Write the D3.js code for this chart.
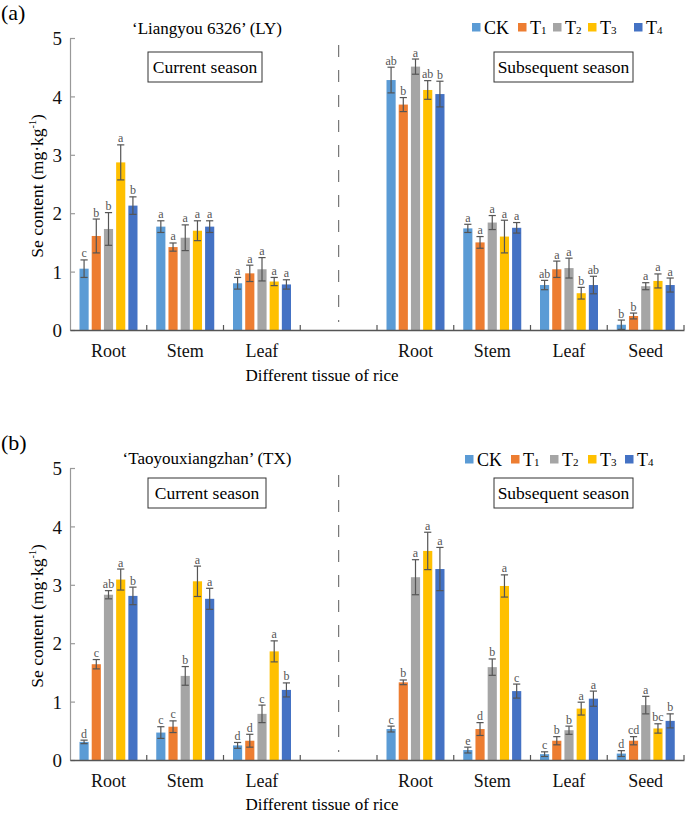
<!DOCTYPE html>
<html><head><meta charset="utf-8">
<script src="https://cdn.jsdelivr.net/npm/d3@7"></script>
<style>body{margin:0;background:#fff}svg{display:block}
svg text{font-family:"Liberation Serif","Times New Roman","DejaVu Serif",serif !important;}</style>
</head><body><svg id="c" width="685" height="815"></svg>
<script>
// ---------- data ----------
const slots = ["Root","Stem","Leaf","","Root","Stem","Leaf","Seed"]; // slot 3 is the gap
const dataSlots = [0,1,2,4,5,6,7];
const series = ["CK","T1","T2","T3","T4"];
const colors = ["#5B9BD5","#ED7D31","#A5A5A5","#FFC000","#4472C4"];
const yTicks = [0,1,2,3,4,5];

// Panel (a) LY
const aCK = [1.05,1.77,0.80, 4.28,1.74,0.77,0.09];
const aT1 = [1.61,1.42,0.97, 3.86,1.50,1.04,0.24];
const aT2 = [1.73,1.58,1.04, 4.51,1.84,1.06,0.75];
const aT3 = [2.87,1.70,0.83, 4.11,1.60,0.63,0.84];
const aT4 = [2.13,1.77,0.78, 4.04,1.75,0.77,0.77];
const aErrCK = [0.15,0.10,0.10, 0.22,0.07,0.08,0.08];
const aErrT1 = [0.29,0.07,0.14, 0.12,0.10,0.14,0.05];
const aErrT2 = [0.28,0.22,0.20, 0.13,0.12,0.17,0.06];
const aErrT3 = [0.30,0.17,0.07, 0.16,0.28,0.10,0.12];
const aErrT4 = [0.15,0.10,0.08, 0.22,0.09,0.15,0.12];
const aLetCK = ["c","a","a","ab","a","ab","b"];
const aLetT1 = ["b","a","a","b","a","a","b"];
const aLetT2 = ["b","a","a","a","a","a","a"];
const aLetT3 = ["a","a","a","ab","a","b","a"];
const aLetT4 = ["b","a","a","b","a","ab","a"];

// Panel (b) TX
const bCK = [0.31,0.47,0.25, 0.53,0.17,0.10,0.11];
const bT1 = [1.64,0.57,0.33, 1.33,0.53,0.33,0.33];
const bT2 = [2.83,1.44,0.79, 3.13,1.59,0.51,0.94];
const bT3 = [3.09,3.06,1.86, 3.58,2.98,0.88,0.54];
const bT4 = [2.81,2.76,1.20, 3.27,1.18,1.05,0.67];
const bErrCK = [0.03,0.10,0.05, 0.05,0.05,0.04,0.05];
const bErrT1 = [0.08,0.10,0.11, 0.04,0.11,0.07,0.07];
const bErrT2 = [0.07,0.16,0.15, 0.30,0.14,0.07,0.15];
const bErrT3 = [0.18,0.26,0.18, 0.32,0.19,0.11,0.08];
const bErrT4 = [0.15,0.18,0.12, 0.37,0.12,0.13,0.12];
const bLetCK = ["d","c","d","c","e","c","d"];
const bLetT1 = ["c","c","d","b","d","b","cd"];
const bLetT2 = ["ab","b","c","a","b","b","a"];
const bLetT3 = ["a","a","a","a","a","a","bc"];
const bLetT4 = ["b","a","b","a","c","a","b"];

// ---------- drawing ----------
const svg = d3.select("#c");

function drawPanel(o){
  const g = svg.append("g").attr("transform",`translate(0,${o.top})`);
  const x = d3.scaleBand().domain(d3.range(slots.length)).range([70,684]);
  const xi = d3.scaleBand().domain(series).range([9.5,67.5]).paddingInner(0.25);
  const y = d3.scaleLinear().domain([0,5]).range([330,38]);

  g.append("text").attr("x",1).attr("y",20).attr("font-size",22).text(o.letter);
  g.append("text").attr("x",207).attr("y",34).attr("text-anchor","middle").attr("font-size",17).text(o.title);

  [{t:"Current season",x0:148,x1:o.curW},{t:"Subsequent season",x0:494,x1:633}].forEach(b=>{
    g.append("rect").attr("x",b.x0).attr("y",o.boxY).attr("width",b.x1-b.x0).attr("height",30)
      .attr("fill","none").attr("stroke","#333").attr("stroke-width",1);
    g.append("text").attr("x",(b.x0+b.x1)/2).attr("y",o.boxY+21).attr("text-anchor","middle")
      .attr("font-size",17.5).text(b.t);
  });

  const lg = g.append("g");
  o.legX.forEach((lx,i)=>{
    lg.append("rect").attr("x",lx).attr("y",o.legY-11).attr("width",8.5).attr("height",8.5).attr("fill",colors[i]);
    const t = lg.append("text").attr("x",lx+12).attr("y",o.legY).attr("font-size",18);
    if(series[i]==="CK") t.text("CK");
    else { t.append("tspan").text("T"); t.append("tspan").attr("font-size",11).text(series[i].slice(1)); }
  });

  g.append("line").attr("x1",x(3)+x.bandwidth()/2).attr("x2",x(3)+x.bandwidth()/2)
    .attr("y1",o.dashTop).attr("y2",322).attr("stroke","#777").attr("stroke-width",1.2)
    .attr("stroke-dasharray","12,13");

  o.vals.forEach((vals,si)=>{
    const s = series[si];
    const gs = g.append("g");
    dataSlots.forEach((slot,k)=>{
      const v = vals[k], e = o.errs[si][k];
      const bx = x(slot)+xi(s), bw = xi.bandwidth();
      gs.append("rect").attr("x",bx).attr("y",y(v)).attr("width",bw).attr("height",y(0)-y(v)).attr("fill",colors[si]);
      const cx = bx+bw/2, cap=3.6;
      const eg = gs.append("g").attr("stroke","#555").attr("stroke-width",1.2);
      eg.append("line").attr("x1",cx).attr("x2",cx).attr("y1",y(v+e)).attr("y2",y(Math.max(0,v-e)));
      eg.append("line").attr("x1",cx-cap).attr("x2",cx+cap).attr("y1",y(v+e)).attr("y2",y(v+e));
      eg.append("line").attr("x1",cx-cap).attr("x2",cx+cap).attr("y1",y(Math.max(0,v-e))).attr("y2",y(Math.max(0,v-e)));
      gs.append("text").attr("x",cx).attr("y",y(v+e)-2.5).attr("text-anchor","middle")
        .attr("font-size",12).attr("fill","#555").text(o.lets[si][k]);
    });
  });

  const ya = g.append("g").attr("transform","translate(70,0)")
    .call(d3.axisLeft(y).tickValues(yTicks).tickFormat(d3.format("d")).tickSize(-5).tickPadding(8).tickSizeOuter(0));
  ya.select(".domain").attr("stroke","#999").attr("stroke-width",1.2);
  ya.selectAll(".tick line").attr("stroke","#999").attr("stroke-width",1.2);
  ya.selectAll(".tick text").attr("font-size",19).attr("fill","#111").attr("dy","0.35em");

  const xa = g.append("g").attr("transform","translate(0,330)")
    .call(d3.axisBottom(x).tickFormat(i=>slots[i]).tickSize(0).tickPadding(14));
  xa.select(".domain").attr("stroke","#555").attr("stroke-width",1.3);
  xa.selectAll(".tick text").attr("font-size",18).attr("fill","#111");
  xa.selectAll(".btick").data(d3.range(1,slots.length+1)).enter().append("line")
    .attr("class","btick").attr("x1",i=>x.step()*i+70).attr("x2",i=>x.step()*i+70)
    .attr("y1",0).attr("y2",-5).attr("stroke","#555").attr("stroke-width",1.2);

  g.append("text").attr("x",322).attr("y",o.xTitleY).attr("text-anchor","middle")
    .attr("font-size",17).text("Different tissue of rice");
  const yl = g.append("text").attr("transform",`translate(43,186) rotate(-90)`).attr("text-anchor","middle")
    .attr("font-size",17.5);
  yl.append("tspan").text("Se content (mg·kg");
  yl.append("tspan").attr("font-size",10).attr("dy",-7).text("-1");
  yl.append("tspan").attr("dy",7).text(")");
}

drawPanel({top:0, letter:"(a)", title:"‘Liangyou 6326’ (LY)", boxY:52, curW:262,
  legX:[472,518,553,588,634], legY:34, dashTop:45, xTitleY:381,
  vals:[aCK,aT1,aT2,aT3,aT4], errs:[aErrCK,aErrT1,aErrT2,aErrT3,aErrT4], lets:[aLetCK,aLetT1,aLetT2,aLetT3,aLetT4]});
drawPanel({top:430, letter:"(b)", title:"‘Taoyouxiangzhan’ (TX)", boxY:48, curW:266,
  legX:[465,511,550,588,625], legY:36, dashTop:45, xTitleY:380,
  vals:[bCK,bT1,bT2,bT3,bT4], errs:[bErrCK,bErrT1,bErrT2,bErrT3,bErrT4], lets:[bLetCK,bLetT1,bLetT2,bLetT3,bLetT4]});
</script></body></html>
